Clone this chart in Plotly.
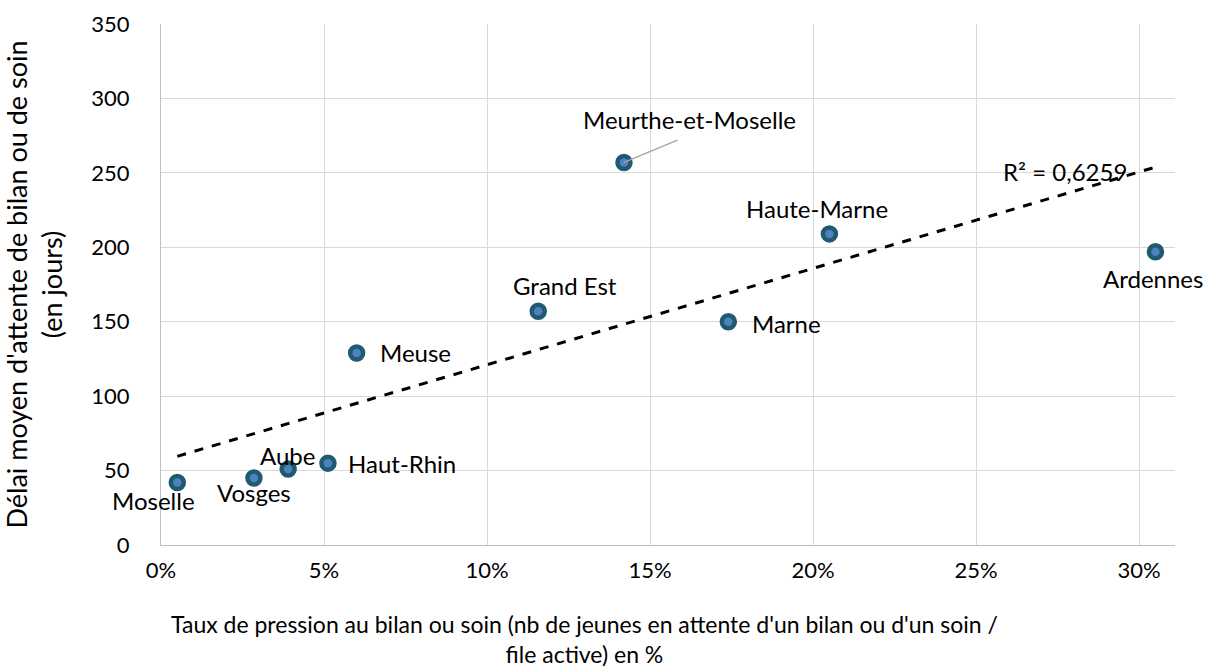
import numpy as np
import plotly.graph_objects as go

# Data
departements = ["Moselle", "Vosges", "Aube", "Haut-Rhin", "Meuse", "Grand Est",
                "Meurthe-et-Moselle", "Marne", "Haute-Marne", "Ardennes"]
taux_pression = [0.005, 0.0285, 0.039, 0.0512, 0.060, 0.1157, 0.142, 0.174, 0.205, 0.305]
delai_jours = [42, 45, 51, 55, 129, 157, 257, 150, 209, 197]
r2_label = "R² = 0,6259"
x_ticks = [0, 0.05, 0.10, 0.15, 0.20, 0.25, 0.30]
x_ticklabels = ["0%", "5%", "10%", "15%", "20%", "25%", "30%"]

FONT = "Lato"
FS = 22        # tick labels
FS_LAB = 24    # point labels
FS_XT = 23     # x title
FS_YT = 27     # y title
GRID = "#D9D9D9"

fig = go.Figure()

# Trendline (linear fit)
slope, intercept = np.polyfit(taux_pression, delai_jours, 1)
xs = [min(taux_pression), max(taux_pression)]
ys = [slope * v + intercept for v in xs]
fig.add_trace(go.Scatter(x=xs, y=ys, mode="lines",
                         line=dict(color="black", width=3, dash="dash"),
                         hoverinfo="skip", showlegend=False))

fig.add_trace(go.Scatter(
    x=taux_pression, y=delai_jours, mode="markers",
    marker=dict(size=13, color="#4F81BD", line=dict(color="#1F5A70", width=4.5)),
    showlegend=False))

# label placement (pixel offsets)
offsets = {
    "Moselle": dict(xshift=-24, yshift=-18, xanchor="center"),
    "Vosges": dict(xshift=0, yshift=-14, xanchor="center"),
    "Aube": dict(xshift=-1, yshift=14, xanchor="center"),
    "Haut-Rhin": dict(xshift=18, yshift=0, xanchor="left"),
    "Meuse": dict(xshift=21, yshift=0, xanchor="left"),
    "Grand Est": dict(xshift=27, yshift=26, xanchor="center"),
    "Meurthe-et-Moselle": dict(xshift=66, yshift=43, xanchor="center"),
    "Marne": dict(xshift=22, yshift=-2, xanchor="left"),
    "Haute-Marne": dict(xshift=-12, yshift=25, xanchor="center"),
    "Ardennes": dict(xshift=-2, yshift=-27, xanchor="center"),
}
for name, xv, yv in zip(departements, taux_pression, delai_jours):
    o = offsets[name]
    fig.add_annotation(x=xv, y=yv, text=name, showarrow=False,
                       xanchor=o["xanchor"], yanchor="middle",
                       xshift=o["xshift"], yshift=o["yshift"],
                       font=dict(family=FONT, size=FS_LAB, color="black"))

# leader line for Meurthe-et-Moselle
i = departements.index("Meurthe-et-Moselle")
fig.add_annotation(x=taux_pression[i], y=delai_jours[i], text="", showarrow=True,
                   arrowhead=0, arrowwidth=1.3, arrowcolor="#A6A6A6",
                   ax=55, ay=-23, standoff=0)

# R² label near end of trendline
fig.add_annotation(x=xs[1], y=ys[1], text=r2_label, showarrow=False,
                   xanchor="right", yanchor="middle", xshift=-26, yshift=-4,
                   font=dict(family=FONT, size=FS_LAB, color="black"))

# X axis title (as annotation, two lines)
fig.add_annotation(xref="paper", yref="paper", x=(584 - 161) / (1175 - 161), y=0,
                   yshift=-63, xanchor="center", yanchor="top",
                   text="Taux de pression au bilan ou soin (nb de jeunes en attente d'un bilan ou d'un soin /<br>file active) en %",
                   showarrow=False, font=dict(family=FONT, size=FS_XT, color="black"))

fig.update_layout(
    width=1210, height=670,
    margin=dict(l=161, r=35, t=24, b=125),
    plot_bgcolor="white", paper_bgcolor="white",
    font=dict(family=FONT, size=FS, color="black"),
    xaxis=dict(range=[0, 0.311], tickvals=x_ticks, ticktext=x_ticklabels,
               showgrid=True, gridcolor=GRID, gridwidth=1.3,
               showline=True, linecolor="#BFBFBF", linewidth=1.3,
               zeroline=False, ticks="", ticklabelstandoff=5, automargin=False,
               tickfont=dict(family=FONT, size=FS, color="black")),
    yaxis=dict(range=[0, 350], dtick=50, showgrid=True, gridcolor=GRID, gridwidth=1.3,
               showline=True, linecolor="#BFBFBF", linewidth=1.3,
               zeroline=False, ticks="", ticklabelstandoff=26, automargin=False,
               tickfont=dict(family=FONT, size=FS, color="black"),
               title=dict(text="Délai moyen d'attente de bilan ou de soin<br>(en jours)",
                          font=dict(family=FONT, size=FS_YT, color="black"), standoff=22)),
)

fig.write_html("out.html", config={"displayModeBar": False},
               post_script="document.body.style.margin='0';")
